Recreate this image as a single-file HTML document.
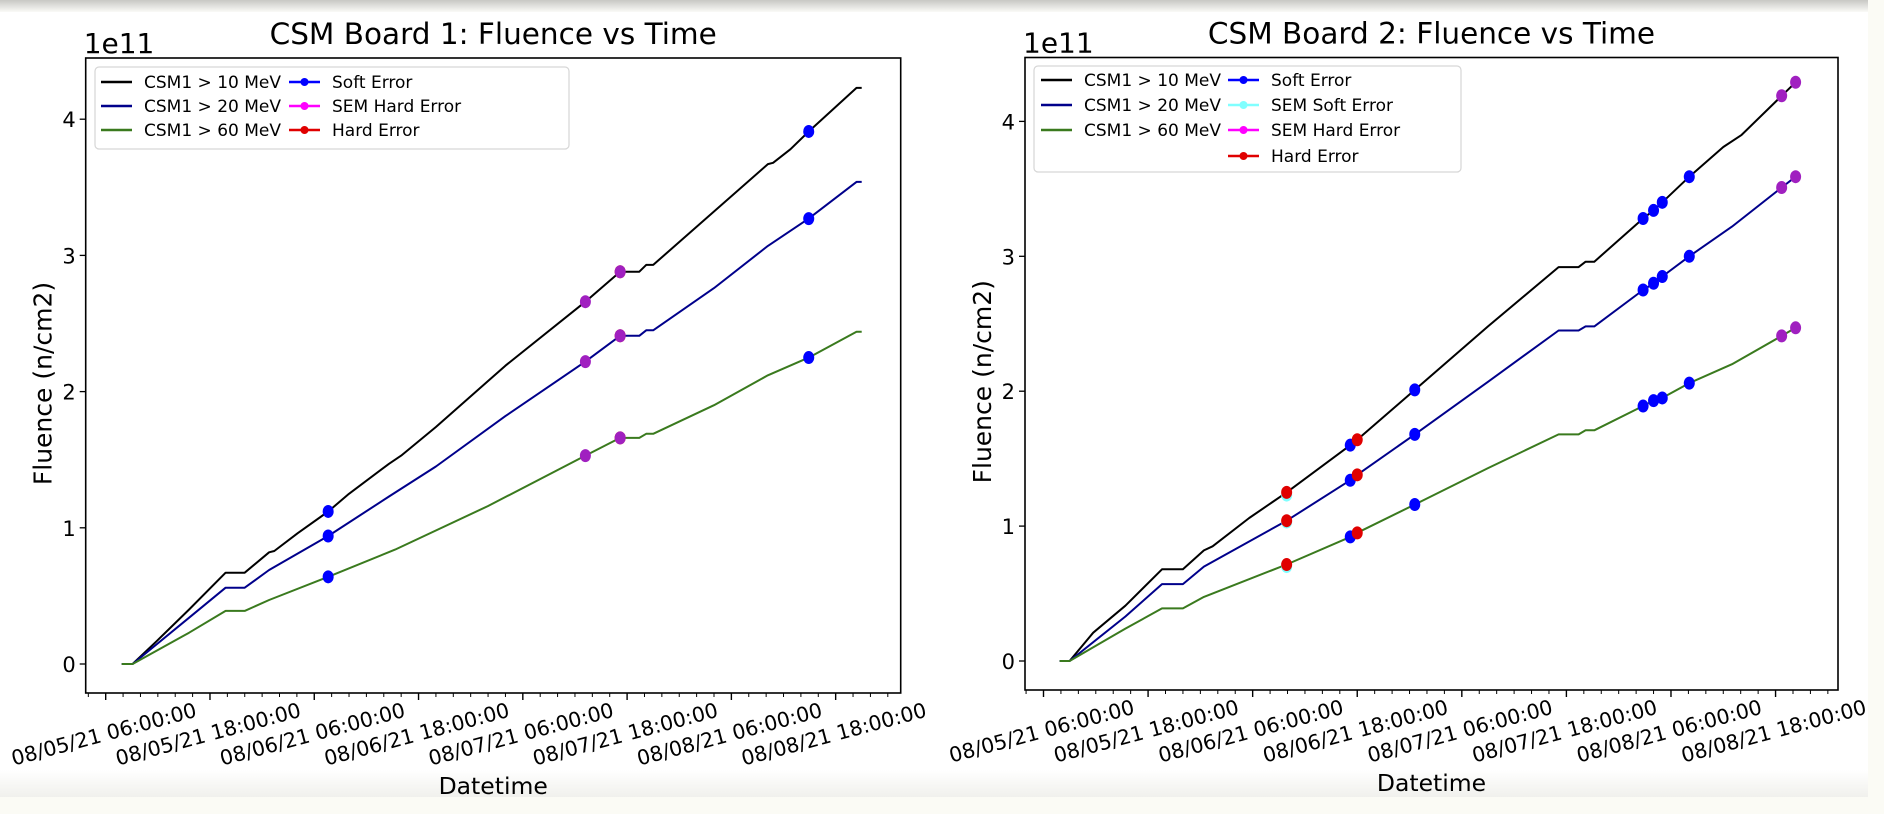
<!DOCTYPE html>
<html><head><meta charset="utf-8">
<style>
html,body{margin:0;padding:0;background:#fff;}
body{width:1884px;height:814px;overflow:hidden;position:relative;font-family:"DejaVu Sans","Liberation Sans",sans-serif;}
svg text{font-family:"DejaVu Sans","Liberation Sans",sans-serif;fill:#000;}
</style></head>
<body>
<svg id="root" width="1884" height="814" viewBox="0 0 1884 814" xmlns="http://www.w3.org/2000/svg">
<defs><linearGradient id="tg" x1="0" y1="0" x2="0" y2="1"><stop offset="0" stop-color="#c8c8c4"/><stop offset="1" stop-color="#fafaf7"/></linearGradient>
<linearGradient id="bg" x1="0" y1="0" x2="0" y2="1"><stop offset="0" stop-color="#fff"/><stop offset="1" stop-color="#f0f0ec"/></linearGradient></defs>
<rect x="0" y="0" width="1884" height="814" fill="#fff"/>
<rect x="0" y="0" width="1884" height="12" fill="url(#tg)"/>
<rect x="0" y="770" width="1884" height="28" fill="url(#bg)"/>
<rect x="0" y="797" width="1884" height="17" fill="#fbfbf5"/>
<rect x="1868" y="0" width="16" height="814" fill="#fbfbf5"/>
<g id="c1"></g><g id="c2"></g>
</svg>
<script>
// ---- Chart data (values in units of 1e11 n/cm2, time in hours since 08/05/21 00:00) ----
const tickLabels = ["08/05/21 06:00:00","08/05/21 18:00:00","08/06/21 06:00:00","08/06/21 18:00:00","08/07/21 06:00:00","08/07/21 18:00:00","08/08/21 06:00:00","08/08/21 18:00:00"];
const tickHours = [6,18,30,42,54,66,78,90];
const yTicks = [0,1,2,3,4];

// Board 1
const b1Time10 = [7.85,9.1,11.9,15.6,19.8,22.0,24.8,25.4,28.1,31.6,34.0,38.6,40.0,44.0,52.0,61.2,65.2,67.4,68.2,69.0,82.2,82.8,84.8,86.9,92.4,93.0];
const b1Val10  = [0,0,0.17,0.40,0.67,0.67,0.82,0.83,0.96,1.12,1.25,1.47,1.53,1.74,2.19,2.66,2.88,2.88,2.93,2.93,3.67,3.68,3.78,3.91,4.23,4.23];
const b1Time20 = [7.85,9.1,15.6,19.8,22.0,24.8,31.6,38.6,44.0,52.0,61.2,65.2,67.4,68.2,69.0,76.0,82.2,86.9,92.4,93.0];
const b1Val20  = [0,0,0.34,0.56,0.56,0.69,0.94,1.23,1.45,1.82,2.22,2.41,2.41,2.45,2.45,2.76,3.07,3.27,3.54,3.54];
const b1Time60 = [7.85,9.1,15.6,19.8,22.0,24.8,31.6,39.3,50.0,61.2,65.2,67.4,68.2,69.0,76.0,82.2,86.9,92.4,93.0];
const b1Val60  = [0,0,0.23,0.39,0.39,0.47,0.64,0.84,1.16,1.53,1.66,1.66,1.69,1.69,1.90,2.12,2.25,2.44,2.44];
const b1SoftT = [31.6,31.6,31.6,86.9,86.9,86.9];
const b1SoftV = [1.12,0.94,0.64,3.91,3.27,2.25];
const b1HardT = [65.2,65.2,65.2];
const b1HardV = [2.88,2.41,1.66];
const b1SemHardT = [61.2,61.2,61.2,65.2,65.2,65.2];
const b1SemHardV = [2.66,2.22,1.53,2.88,2.41,1.66];

// Board 2
const b2Time10 = [7.86,9.0,11.7,15.4,19.6,22.0,24.4,25.4,29.6,33.9,41.2,42.0,48.6,57.0,65.1,67.4,68.2,69.2,74.8,76.0,77.0,80.1,84.0,86.1,90.7,92.3];
const b2Val10  = [0,0,0.21,0.41,0.68,0.68,0.82,0.85,1.06,1.25,1.60,1.64,2.01,2.48,2.92,2.92,2.96,2.96,3.28,3.34,3.40,3.59,3.81,3.90,4.19,4.29];
const b2Time20 = [7.86,9.0,15.4,19.6,22.0,24.4,33.9,41.2,42.0,48.6,57.0,65.1,67.4,68.2,69.2,74.8,76.0,77.0,80.1,85.0,90.7,92.3];
const b2Val20  = [0,0,0.33,0.57,0.57,0.70,1.04,1.34,1.38,1.68,2.07,2.45,2.45,2.48,2.48,2.75,2.80,2.85,3.00,3.22,3.51,3.59];
const b2Time60 = [7.86,9.0,15.4,19.6,22.0,24.4,33.9,41.2,42.0,48.6,57.0,65.1,67.4,68.2,69.2,74.8,76.0,77.0,80.1,85.0,90.7,92.3];
const b2Val60  = [0,0,0.24,0.39,0.39,0.475,0.715,0.92,0.95,1.16,1.43,1.68,1.68,1.71,1.71,1.89,1.93,1.95,2.06,2.20,2.41,2.47];
const b2SoftT = [41.2,41.2,41.2,48.6,48.6,48.6,74.8,74.8,74.8,76.0,76.0,76.0,77.0,77.0,77.0,80.1,80.1,80.1];
const b2SoftV = [1.60,1.34,0.92,2.01,1.68,1.16,3.28,2.75,1.89,3.34,2.80,1.93,3.40,2.85,1.95,3.59,3.00,2.06];
const b2SemSoftT = [33.9,33.9,33.9];
const b2SemSoftV = [1.23,1.03,0.70];
const b2HardT = [33.9,33.9,33.9,42.0,42.0,42.0];
const b2HardV = [1.25,1.04,0.715,1.64,1.38,0.95];
const b2SemHardT = [90.7,90.7,90.7,92.3,92.3,92.3];
const b2SemHardV = [4.19,3.51,2.41,4.29,3.59,2.47];

const NS = "http://www.w3.org/2000/svg";
function mk(tag, attrs, parent){const e=document.createElementNS(NS,tag);for(const k in attrs)e.setAttribute(k,attrs[k]);parent.appendChild(e);return e;}

function drawChart(g, cfg){
  const L=cfg.left,R=cfg.right,T=cfg.top,B=cfg.bottom;
  const xs = h => cfg.x06 + (h-6)*cfg.pxh;
  const ys = v => cfg.y0 - v*cfg.unit;
  const title = mk('text',{x:(L+R)/2,y:T-14,'text-anchor':'middle','font-size':29.5},g);
  title.textContent = cfg.title;
  
  
  const off = mk('text',{x:L-2,y:T-5,'font-size':28},g);
  off.textContent='1e11';
  
  
  yTicks.forEach(v=>{
    const y=ys(v);
    mk('line',{x1:L-6,x2:L,y1:y,y2:y,stroke:'#000','stroke-width':1.3},g);
    const t=mk('text',{x:L-10,y:y+8,'text-anchor':'end','font-size':21},g);
    t.textContent=String(v);
    
    
  });
  for(let h=-6; h<=102; h+=2){
    const x=xs(h); if(x<L||x>R) continue;
    const major = (h-6)%12===0;
    mk('line',{x1:x,x2:x,y1:B,y2:B+(major?7:4),stroke:'#000','stroke-width':major?1.4:1},g);
  }
  tickHours.forEach((h,i)=>{
    const x=xs(h);
    const t=mk('text',{x:0,y:0,'text-anchor':'middle','font-size':20.5,transform:`translate(${x},${B+48}) rotate(-15)`},g);
    t.textContent=tickLabels[i];
    
    
  });
  const xl=mk('text',{x:(L+R)/2,y:B+101,'text-anchor':'middle','font-size':23.5},g);
  xl.textContent='Datetime';
  
  
  const yl=mk('text',{x:0,y:0,'text-anchor':'middle','font-size':25,transform:`translate(${L-34},${(T+B)/2+8}) rotate(-90)`},g);
  yl.textContent='Fluence (n/cm2)';
  
  
  cfg.series.forEach(s=>{
    const d=s.t.map((h,i)=>(i?'L':'M')+xs(h).toFixed(1)+','+ys(s.v[i]).toFixed(1)).join(' ');
    const p=mk('path',{d:d,fill:'none',stroke:s.color,'stroke-width':2,'stroke-linejoin':'round'},g);
    
    
  });
  cfg.markers.forEach(m=>{
    m.t.forEach((h,i)=>{
      const c=mk('ellipse',{cx:xs(h),cy:ys(m.v[i]),rx:5.5,ry:6.5,fill:m.color},g);
      
      
    });
  });
  const fr=mk('rect',{x:L,y:T,width:R-L,height:B-T,fill:'none',stroke:'#000','stroke-width':1.6},g);
  
  
  const lg=cfg.legend;
  const box=mk('rect',{x:lg.x,y:lg.y,width:lg.w,height:lg.h,rx:4,fill:'#fff','fill-opacity':0.85,stroke:'#d6d6d6','stroke-width':1.2},g);
  
  
  lg.items.forEach(it=>{
    mk('line',{x1:it.x,x2:it.x+lg.lw,y1:it.y,y2:it.y,stroke:it.color,'stroke-width':2.4},g);
    if(it.marker) mk('circle',{cx:it.x+lg.lw/2,cy:it.y,r:4,fill:it.color},g);
    const t=mk('text',{x:it.x+lg.lw+12,y:it.y+6,'font-size':17},g);
    t.textContent=it.label;
    
    
  });
}

const BLK='#000', NAVY='#00008b', GRN='#3a7a1e', BLU='#0000ff', CYN='#80ffff', MAG='#a020c0', RED='#e00000';

drawChart(document.getElementById('c1'),{
  title:'CSM Board 1: Fluence vs Time',
  left:85.7,right:900.7,top:58,bottom:693,
  x06:105.7,pxh:8.69,y0:664,unit:136.2,
  series:[
    {name:'line-csm1-10mev',t:b1Time10,v:b1Val10,color:BLK},
    {name:'line-csm1-20mev',t:b1Time20,v:b1Val20,color:NAVY},
    {name:'line-csm1-60mev',t:b1Time60,v:b1Val60,color:GRN}],
  markers:[
    {name:'soft-error-point',t:b1SoftT,v:b1SoftV,color:BLU},
    {name:'hard-error-point',t:b1HardT,v:b1HardV,color:RED},
    {name:'sem-hard-error-point',t:b1SemHardT,v:b1SemHardV,color:MAG}],
  legend:{x:95,y:67,w:474,h:82,lw:31,items:[
    {x:101,y:82,label:'CSM1 > 10 MeV',color:BLK},
    {x:101,y:106,label:'CSM1 > 20 MeV',color:NAVY},
    {x:101,y:130,label:'CSM1 > 60 MeV',color:GRN},
    {x:289,y:82,label:'Soft Error',color:BLU,marker:1},
    {x:289,y:106,label:'SEM Hard Error',color:'#ff00ff',marker:1},
    {x:289,y:130,label:'Hard Error',color:RED,marker:1}]}
});

drawChart(document.getElementById('c2'),{
  title:'CSM Board 2: Fluence vs Time',
  left:1025,right:1838,top:57.5,bottom:690,
  x06:1043.5,pxh:8.715,y0:661,unit:134.9,
  series:[
    {name:'line-csm1-10mev',t:b2Time10,v:b2Val10,color:BLK},
    {name:'line-csm1-20mev',t:b2Time20,v:b2Val20,color:NAVY},
    {name:'line-csm1-60mev',t:b2Time60,v:b2Val60,color:GRN}],
  markers:[
    {name:'soft-error-point',t:b2SoftT,v:b2SoftV,color:BLU},
    {name:'sem-soft-error-point',t:b2SemSoftT,v:b2SemSoftV,color:CYN},
    {name:'hard-error-point',t:b2HardT,v:b2HardV,color:RED},
    {name:'sem-hard-error-point',t:b2SemHardT,v:b2SemHardV,color:MAG}],
  legend:{x:1034,y:66,w:427,h:106,lw:31,items:[
    {x:1041,y:80,label:'CSM1 > 10 MeV',color:BLK},
    {x:1041,y:105,label:'CSM1 > 20 MeV',color:NAVY},
    {x:1041,y:130,label:'CSM1 > 60 MeV',color:GRN},
    {x:1228,y:80,label:'Soft Error',color:BLU,marker:1},
    {x:1228,y:105,label:'SEM Soft Error',color:CYN,marker:1},
    {x:1228,y:130,label:'SEM Hard Error',color:'#ff00ff',marker:1},
    {x:1228,y:156,label:'Hard Error',color:RED,marker:1}]}
});
</script>
</body></html>
